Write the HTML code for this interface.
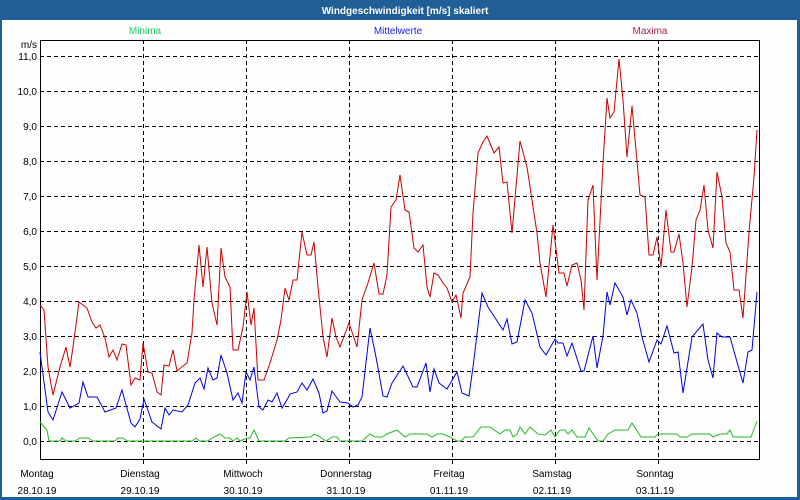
<!DOCTYPE html>
<html><head><meta charset="utf-8"><style>
html,body{margin:0;padding:0;background:#fff}
svg{display:block}
text{font-family:"Liberation Sans","DejaVu Sans",sans-serif;font-size:10px}
</style></head><body>
<svg width="800" height="500" xmlns="http://www.w3.org/2000/svg">
<rect x="0" y="0" width="800" height="500" fill="#1f5f96"/>
<rect x="2" y="20" width="795" height="477" fill="#fdfefd"/>
<text x="405" y="14" fill="#fff" font-weight="bold" font-size="11" text-anchor="middle">Windgeschwindigkeit [m/s] skaliert</text>
<text x="145" y="34" fill="#22cc66" text-anchor="middle">Minima</text>
<text x="398" y="34" fill="#2222ee" text-anchor="middle">Mittelwerte</text>
<text x="650" y="34" fill="#aa2255" text-anchor="middle">Maxima</text>
<text x="37" y="48" text-anchor="end" fill="#000">m/s</text>
<g stroke="#000" stroke-width="1" stroke-dasharray="4,3" fill="none">
<path d="M40 56.5H760M40 91.5H760M40 126.5H760M40 161.5H760M40 196.5H760M40 231.5H760M40 266.5H760M40 301.5H760M40 336.5H760M40 371.5H760M40 406.5H760M40 441.5H760"/>
<path d="M143.5 40V464M246.5 40V464M349.5 40V464M452.5 40V464M555.5 40V464M658.5 40V464"/>
</g>
<rect x="40.5" y="40.5" width="719" height="419" fill="none" stroke="#000"/>
<g fill="#000" text-anchor="end">
<text x="37" y="60">11,0</text><text x="37" y="95">10,0</text><text x="37" y="130">9,0</text><text x="37" y="165">8,0</text><text x="37" y="200">7,0</text><text x="37" y="235">6,0</text><text x="37" y="270">5,0</text><text x="37" y="305">4,0</text><text x="37" y="340">3,0</text><text x="37" y="375">2,0</text><text x="37" y="410">1,0</text><text x="37" y="445">0,0</text>
</g>
<g fill="#000" text-anchor="middle">
<text x="37" y="477">Montag</text><text x="37" y="494">28.10.19</text>
<text x="140" y="477">Dienstag</text><text x="140" y="494">29.10.19</text>
<text x="243" y="477">Mittwoch</text><text x="243" y="494">30.10.19</text>
<text x="346" y="477">Donnerstag</text><text x="346" y="494">31.10.19</text>
<text x="449" y="477">Freitag</text><text x="449" y="494">01.11.19</text>
<text x="552" y="477">Samstag</text><text x="552" y="494">02.11.19</text>
<text x="655" y="477">Sonntag</text><text x="655" y="494">03.11.19</text>
</g>
<polyline fill="none" stroke="#22bb22" stroke-width="1" points="40,422 47,430 49,441 60,441 62,438 66,441 75,441 80,438 88,438 93,441 115,441 118,438 123,438 127,441 192,441 196,438 199,441 208,441 212,438 220,434 225,438 230,438 233,441 237,438 240,441 247,438 250,438 254,430 259,441 285,441 289,438 311,437 314,434 320,437 326,441 332,437 337,437 340,441 362,441 370,434 375,437 382,437 387,434 397,430 405,437 410,434 427,434 432,437 437,434 443,434 450,437 457,441 461,441 465,437 473,437 481,427 490,427 500,434 505,430 510,430 513,437 517,434 520,427 525,434 530,427 538,434 545,435 551,430 555,437 560,430 565,430 568,434 572,430 577,437 585,437 589,428 598,441 603,441 608,434 615,430 628,430 632,423 641,437 655,437 658,434 677,434 680,437 687,437 692,434 710,434 713,437 720,434 727,434 730,430 733,437 751,437 757,421"/>
<polyline fill="none" stroke="#0000ee" stroke-width="1" points="40,352 48,412 53,420 62,392 70,408 79,403 83,382 88,397 97,397 105,412 116,408 122,390 131,423 135,427 140,419 144,399 152,422 161,429 165,408 169,415 173,410 182,412 188,405 195,383 200,378 204,389 208,368 213,380 217,378 221,355 227,373 233,400 238,393 242,403 246,372 250,380 254,367 259,407 263,410 268,400 272,402 277,393 282,408 288,398 290,394 297,392 302,383 307,390 313,379 319,393 323,413 327,411 332,391 340,402 348,403 353,407 358,405 362,397 370,328 376,357 383,396 387,397 392,383 403,366 413,387 417,387 426,363 430,392 434,369 439,383 447,389 457,372 462,393 469,396 473,367 482,293 488,307 503,330 507,319 512,344 517,342 525,300 532,313 540,347 546,355 555,339 558,343 563,343 567,356 572,343 581,371 584,371 593,336 597,368 603,336 607,292 610,305 615,283 623,297 627,315 631,300 637,313 642,337 649,362 657,340 661,344 667,326 674,353 678,352 683,393 692,337 703,324 708,360 713,378 717,333 722,337 730,337 737,362 743,383 748,352 752,350 757,292"/>
<polyline fill="none" stroke="#cc0000" stroke-width="1" points="40,305 44,310 48,367 53,395 60,367 66,347 70,367 73,347 79,302 87,308 92,322 96,328 100,325 105,338 109,357 113,350 117,360 122,344 126,345 131,385 135,378 140,380 143,343 148,372 152,373 157,392 161,395 164,365 169,366 173,350 177,371 183,366 187,363 192,333 194,300 199,245 203,287 207,247 212,303 217,325 221,248 225,277 230,287 233,350 238,350 243,327 247,292 251,325 254,308 258,380 264,380 270,363 277,340 281,320 285,288 289,300 293,280 297,280 302,232 307,255 311,255 314,242 318,287 323,337 327,357 332,318 336,337 340,347 349,323 357,347 362,300 368,283 374,263 379,294 383,294 387,275 391,207 396,200 400,175 405,210 409,212 414,248 418,252 423,245 427,287 430,297 434,273 438,275 443,283 447,288 452,302 456,295 461,318 463,293 470,277 473,213 478,153 483,142 487,136 494,153 499,147 503,183 507,182 512,233 520,141 527,167 537,233 540,263 546,297 553,225 559,273 564,273 567,286 572,265 577,263 581,280 584,310 588,200 593,185 597,280 603,163 607,98 610,118 614,112 619,59 623,100 627,157 632,106 636,150 640,195 645,197 649,255 653,255 657,237 661,267 666,210 671,252 674,252 679,234 683,263 687,307 692,267 696,220 700,210 704,185 708,230 713,248 717,172 722,197 726,243 730,252 734,290 739,290 743,318 749,232 754,177 757,130"/>
</svg>
</body></html>
